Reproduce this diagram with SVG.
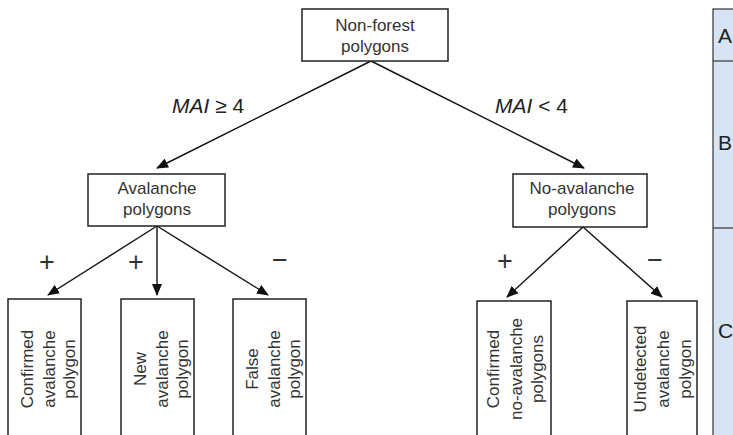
<svg xmlns="http://www.w3.org/2000/svg" width="733" height="435" viewBox="0 0 733 435">
<defs>
<marker id="ah" markerUnits="userSpaceOnUse" markerWidth="12" markerHeight="10" refX="11" refY="5" orient="auto">
<path d="M0,0 L12,5 L0,10 Z" fill="#111"/>
</marker>
<style>
.box{fill:#fff;stroke:#222;stroke-width:1.5}
.t{font-family:"Liberation Sans",Arial,sans-serif;font-size:17px;fill:#333;text-anchor:middle}
.lbl{font-family:"Liberation Sans",Arial,sans-serif;font-size:21px;fill:#222}
.sg{font-family:"Liberation Sans",Arial,sans-serif;font-size:27px;fill:#333;text-anchor:middle}
.edge{stroke:#111;stroke-width:1.4;fill:none;marker-end:url(#ah)}
</style>
</defs>
<rect width="733" height="435" fill="#fff"/>
<g id="connectors">
<line class="edge" x1="371" y1="61" x2="157" y2="168"/>
<line class="edge" x1="371" y1="61" x2="584" y2="168"/>
<line class="edge" x1="157" y1="226" x2="48" y2="295"/>
<line class="edge" x1="157" y1="226" x2="157" y2="295"/>
<line class="edge" x1="157" y1="226" x2="268" y2="295"/>
<line class="edge" x1="583" y1="227" x2="507" y2="297"/>
<line class="edge" x1="583" y1="227" x2="662" y2="297"/>
</g>
<g id="labels">
<text class="lbl" x="172" y="113"><tspan font-style="italic">MAI</tspan> ≥ 4</text>
<text class="lbl" x="495" y="113"><tspan font-style="italic">MAI</tspan> &lt; 4</text>
<text class="sg" x="47" y="271">+</text>
<text class="sg" x="136" y="271">+</text>
<text class="sg" x="280" y="269">−</text>
<text class="sg" x="505" y="270">+</text>
<text class="sg" x="655" y="269">−</text>
</g>
<g id="n-root">
<rect class="box" x="302" y="9" width="146" height="52"/>
<text class="t" x="375" y="31">Non-forest</text>
<text class="t" x="375" y="52">polygons</text>
</g>
<g id="n-avalanche">
<rect class="box" x="88" y="174" width="137" height="52"/>
<text class="t" x="157" y="194">Avalanche</text>
<text class="t" x="157" y="215">polygons</text>
</g>
<g id="n-noavalanche">
<rect class="box" x="513" y="174" width="134" height="53"/>
<text class="t" x="582" y="194">No-avalanche</text>
<text class="t" x="582" y="215">polygons</text>
</g>
<g id="n-confirmed">
<rect class="box" x="8" y="299" width="73" height="150"/>
<g transform="translate(44.5,369) rotate(-90)">
<text class="t" x="0" y="-12">Confirmed</text>
<text class="t" x="0" y="10">avalanche</text>
<text class="t" x="0" y="30">polygon</text>
</g>
</g>
<g id="n-new">
<rect class="box" x="121" y="299" width="73" height="150"/>
<g transform="translate(157.5,369) rotate(-90)">
<text class="t" x="0" y="-12">New</text>
<text class="t" x="0" y="10">avalanche</text>
<text class="t" x="0" y="30">polygon</text>
</g>
</g>
<g id="n-false">
<rect class="box" x="233" y="299" width="73" height="150"/>
<g transform="translate(269.5,369) rotate(-90)">
<text class="t" x="0" y="-12">False</text>
<text class="t" x="0" y="10">avalanche</text>
<text class="t" x="0" y="30">polygon</text>
</g>
</g>
<g id="n-confirmed-no">
<rect class="box" x="477" y="301" width="74" height="150"/>
<g transform="translate(514,369) rotate(-90)">
<text class="t" x="0" y="-15">Confirmed</text>
<text class="t" x="0" y="8">no-avalanche</text>
<text class="t" x="0" y="29">polygons</text>
</g>
</g>
<g id="n-undetected">
<rect class="box" x="627" y="301" width="70" height="150"/>
<g transform="translate(662,369) rotate(-90)">
<text class="t" x="0" y="-16">Undetected</text>
<text class="t" x="0" y="7">avalanche</text>
<text class="t" x="0" y="29">polygon</text>
</g>
</g>
<g id="side-panel">
<rect x="713" y="9" width="40" height="440" fill="#d6e4f3" stroke="#333" stroke-width="1.2"/>
<line x1="713" y1="61" x2="733" y2="61" stroke="#333" stroke-width="1.2"/>
<line x1="713" y1="228" x2="733" y2="228" stroke="#333" stroke-width="1.2"/>
<text class="lbl" x="718" y="43" font-size="20">A</text>
<text class="lbl" x="718" y="150" font-size="20">B</text>
<text class="lbl" x="718" y="338" font-size="20">C</text>
</g>
</svg>
